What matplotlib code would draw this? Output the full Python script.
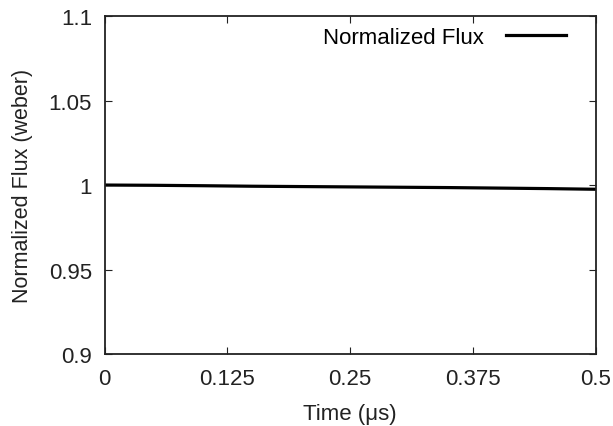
import matplotlib
matplotlib.use("Agg")
import matplotlib.pyplot as plt

plt.rcParams['font.family'] = ['Liberation Sans', 'DejaVu Sans']

# data
time_us = [0.0, 0.05, 0.1, 0.15, 0.2, 0.25, 0.3, 0.35, 0.4, 0.45, 0.5]
flux = [1.0, 0.99985, 0.9996, 0.9993, 0.9991, 0.9989, 0.9987, 0.9985, 0.9982, 0.9979, 0.9975]

xticks = [0, 0.125, 0.25, 0.375, 0.5]
xtick_labels = ["0", "0.125", "0.25", "0.375", "0.5"]
yticks = [0.9, 0.95, 1.0, 1.05, 1.1]
ytick_labels = ["0.9", "0.95", "1", "1.05", "1.1"]

fig = plt.figure(figsize=(6.13, 4.27), dpi=100)
ax = fig.add_axes([0.1705, 0.1686, 0.8015, 0.7914])

ax.plot(time_us, flux, color='black', linewidth=2.3, label='Normalized Flux')

ax.set_xlim(0, 0.5)
ax.set_ylim(0.9, 1.1)
ax.set_xticks(xticks, xtick_labels)
ax.set_yticks(yticks, ytick_labels)
ax.tick_params(direction='in', top=True, right=True, length=5, width=0.8,
               labelsize=16, colors='#222222')
ax.tick_params(axis='x', pad=10)
ax.tick_params(axis='y', pad=9)
for s in ax.spines.values():
    s.set_linewidth(1.3)
    s.set_color('#222222')

ax.set_xlabel('Time (\u03bcs)', fontsize=16, color='#222222', labelpad=10)
ax.set_ylabel('Normalized Flux (weber)', fontsize=15.5, color='#222222', labelpad=11)

ax.legend(loc='upper right', frameon=False, markerfirst=False, fontsize=16,
          handlelength=2.7, borderaxespad=0.0, borderpad=0.25,
          handletextpad=1.0, bbox_to_anchor=(0.95, 0.985))

fig.savefig('out.png', dpi=100)
